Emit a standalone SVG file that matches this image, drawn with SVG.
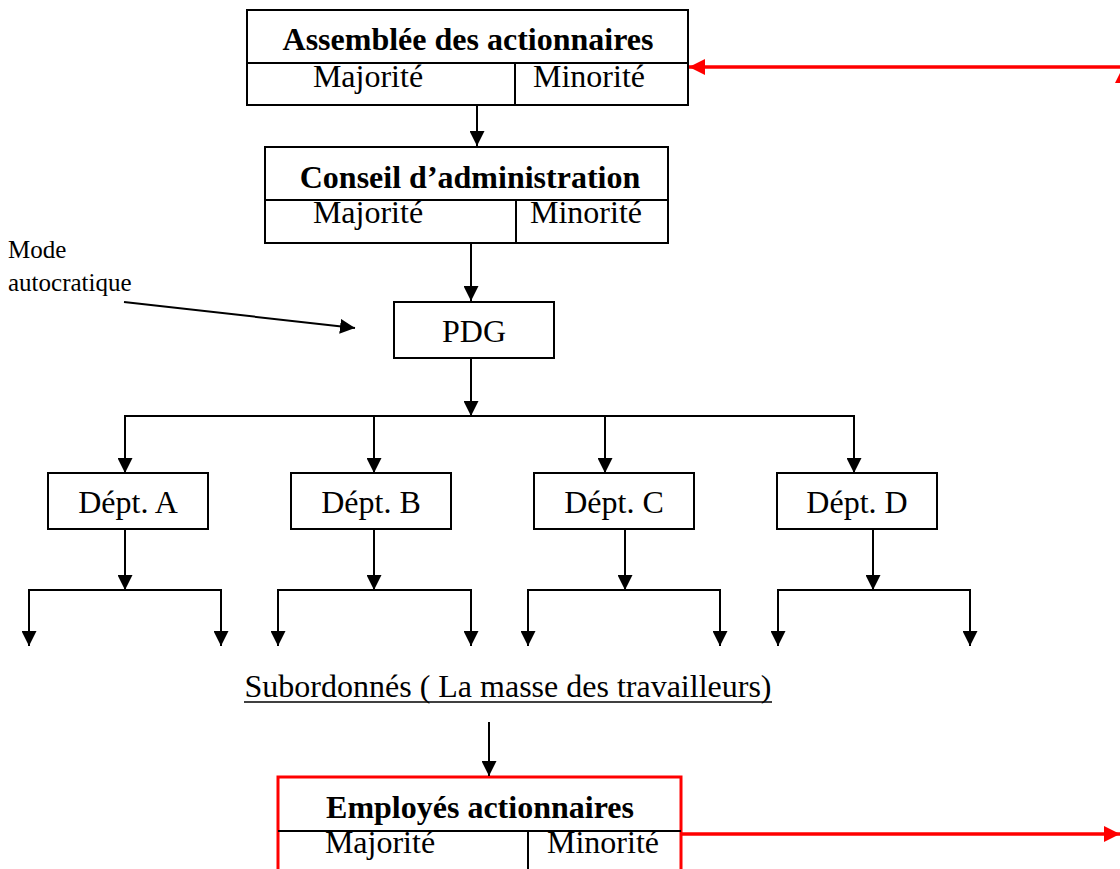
<svg xmlns="http://www.w3.org/2000/svg" width="1120" height="869" viewBox="0 0 1120 869">
<style>
.box{fill:#fff;stroke:#000;stroke-width:2}
.rbox{fill:#fff;stroke:#f00;stroke-width:3}
.ln{fill:none;stroke:#000;stroke-width:2}
.rl{fill:none;stroke:#f00;stroke-width:3.5}
.t{font-family:"Liberation Serif","Times New Roman",serif;font-size:32px;fill:#000;text-anchor:middle}
.b{font-weight:bold}
.s{font-family:"Liberation Serif","Times New Roman",serif;font-size:25px;fill:#000}
</style>
<defs>
<marker id="ah" viewBox="0 0 15 15" refX="15" refY="7.5" markerWidth="15" markerHeight="15" markerUnits="userSpaceOnUse" orient="auto">
<path d="M0,0 L15,7.5 L0,15 Z" fill="#000"/>
</marker>
<marker id="rah" viewBox="0 0 16 16" refX="16" refY="8" markerWidth="16" markerHeight="16" markerUnits="userSpaceOnUse" orient="auto">
<path d="M0,0 L16,8 L0,16 Z" fill="#f00"/>
</marker>
</defs>

<g id="assemblee">
<rect class="box" x="247" y="10" width="441" height="95"/>
<line class="ln" x1="247" y1="63" x2="688" y2="63"/>
<line class="ln" x1="515" y1="63" x2="515" y2="105"/>
<text class="t b" x="468" y="50">Assemblée des actionnaires</text>
<text class="t" x="368" y="87">Majorité</text>
<text class="t" x="589" y="87">Minorité</text>
</g>

<g id="conseil">
<rect class="box" x="265" y="147" width="403" height="96"/>
<line class="ln" x1="265" y1="200" x2="668" y2="200"/>
<line class="ln" x1="516" y1="200" x2="516" y2="243"/>
<text class="t b" x="470" y="188">Conseil d’administration</text>
<text class="t" x="368" y="223">Majorité</text>
<text class="t" x="586" y="223">Minorité</text>
</g>

<g id="mode">
<text class="s" x="8" y="258">Mode</text>
<text class="s" x="8" y="291">autocratique</text>
</g>

<g id="pdg">
<rect class="box" x="394" y="302" width="160" height="56"/>
<text class="t" x="474" y="342">PDG</text>
</g>

<g id="dept-a">
<rect class="box" x="48" y="473" width="160" height="56"/>
<text class="t" x="128" y="513">Dépt. A</text>
</g>
<g id="dept-b">
<rect class="box" x="291" y="473" width="160" height="56"/>
<text class="t" x="371" y="513">Dépt. B</text>
</g>
<g id="dept-c">
<rect class="box" x="534" y="473" width="160" height="56"/>
<text class="t" x="614" y="513">Dépt. C</text>
</g>
<g id="dept-d">
<rect class="box" x="777" y="473" width="160" height="56"/>
<text class="t" x="857" y="513">Dépt. D</text>
</g>

<g id="subordonnes">
<text class="t" x="508" y="697">Subordonnés ( La masse des travailleurs)</text>
<line x1="244" y1="702" x2="772" y2="702" stroke="#000" stroke-width="1.6"/>
</g>

<g id="employes">
<rect class="rbox" x="278" y="777" width="403" height="110"/>
<line class="ln" x1="278" y1="831" x2="681" y2="831"/>
<line class="ln" x1="528" y1="831" x2="528" y2="869"/>
<text class="t b" x="480" y="818">Employés actionnaires</text>
<text class="t" x="380" y="853">Majorité</text>
<text class="t" x="603" y="853">Minorité</text>
</g>

<g id="connectors">
<line class="ln" x1="477" y1="105" x2="477" y2="146" marker-end="url(#ah)"/>
<line class="ln" x1="471" y1="243" x2="471" y2="301" marker-end="url(#ah)"/>
<line class="ln" x1="124" y1="302" x2="355" y2="328" marker-end="url(#ah)"/>
<line class="ln" x1="471" y1="358" x2="471" y2="416" marker-end="url(#ah)"/>
<line class="ln" x1="125" y1="416" x2="854" y2="416"/>
<line class="ln" x1="125" y1="415" x2="125" y2="473" marker-end="url(#ah)"/>
<line class="ln" x1="374" y1="416" x2="374" y2="473" marker-end="url(#ah)"/>
<line class="ln" x1="605" y1="416" x2="605" y2="473" marker-end="url(#ah)"/>
<line class="ln" x1="854" y1="415" x2="854" y2="473" marker-end="url(#ah)"/>

<line class="ln" x1="125" y1="529" x2="125" y2="590" marker-end="url(#ah)"/>
<line class="ln" x1="374" y1="529" x2="374" y2="590" marker-end="url(#ah)"/>
<line class="ln" x1="625" y1="529" x2="625" y2="590" marker-end="url(#ah)"/>
<line class="ln" x1="873" y1="529" x2="873" y2="590" marker-end="url(#ah)"/>

<line class="ln" x1="29" y1="590" x2="221" y2="590"/>
<line class="ln" x1="29" y1="589" x2="29" y2="646" marker-end="url(#ah)"/>
<line class="ln" x1="221" y1="589" x2="221" y2="646" marker-end="url(#ah)"/>
<line class="ln" x1="278" y1="590" x2="471" y2="590"/>
<line class="ln" x1="278" y1="589" x2="278" y2="646" marker-end="url(#ah)"/>
<line class="ln" x1="471" y1="589" x2="471" y2="646" marker-end="url(#ah)"/>
<line class="ln" x1="528" y1="590" x2="720" y2="590"/>
<line class="ln" x1="528" y1="589" x2="528" y2="646" marker-end="url(#ah)"/>
<line class="ln" x1="720" y1="589" x2="720" y2="646" marker-end="url(#ah)"/>
<line class="ln" x1="778" y1="590" x2="970" y2="590"/>
<line class="ln" x1="778" y1="589" x2="778" y2="646" marker-end="url(#ah)"/>
<line class="ln" x1="970" y1="589" x2="970" y2="646" marker-end="url(#ah)"/>

<line class="ln" x1="489" y1="722" x2="489" y2="776" marker-end="url(#ah)"/>

<line class="rl" x1="1125" y1="67" x2="689" y2="67" marker-end="url(#rah)"/>
<polygon points="1115,83 1123,67 1131,83" fill="#f00"/>
<line class="rl" x1="681" y1="834" x2="1120" y2="834" marker-end="url(#rah)"/>
</g>
</svg>
